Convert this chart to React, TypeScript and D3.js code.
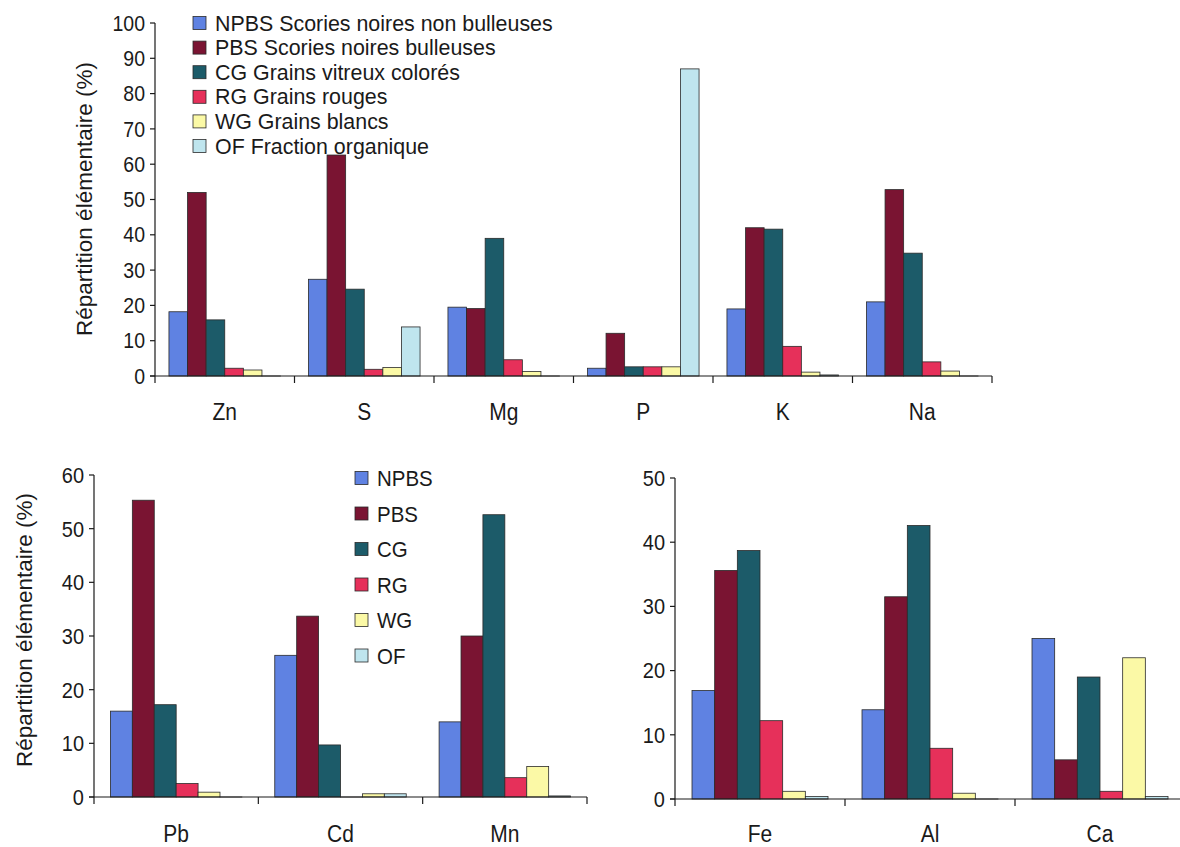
import React from 'react';
import * as d3 from 'd3';

// ---- Series ----
const SERIES_LONG = [
  'NPBS Scories noires non bulleuses',
  'PBS Scories noires bulleuses',
  'CG Grains vitreux colorés',
  'RG Grains rouges',
  'WG Grains blancs',
  'OF Fraction organique',
];
const SERIES_SHORT = ['NPBS', 'PBS', 'CG', 'RG', 'WG', 'OF'];
const COLORS = ['#5f82e2', '#7a1432', '#1c5b69', '#e6305a', '#fbf9a6', '#bfe5ee'];

// ---- Top chart (0-100 %) ----
const TOP_ELEMENTS = ['Zn', 'S', 'Mg', 'P', 'K', 'Na'];
const TOP_NPBS = [18.2, 27.4, 19.5, 2.2, 19.0, 21.0];
const TOP_PBS = [52.0, 62.6, 19.1, 12.1, 42.0, 52.8];
const TOP_CG = [15.9, 24.6, 39.0, 2.6, 41.6, 34.8];
const TOP_RG = [2.2, 1.9, 4.6, 2.6, 8.4, 4.0];
const TOP_WG = [1.7, 2.4, 1.3, 2.6, 1.1, 1.4];
const TOP_OF = [0, 13.9, 0, 87.0, 0.3, 0];
const TOP_TICKS = [0, 10, 20, 30, 40, 50, 60, 70, 80, 90, 100];

// ---- Bottom-left chart (0-60 %) ----
const BL_ELEMENTS = ['Pb', 'Cd', 'Mn'];
const BL_NPBS = [16.0, 26.4, 14.0];
const BL_PBS = [55.3, 33.7, 30.0];
const BL_CG = [17.2, 9.7, 52.6];
const BL_RG = [2.5, 0, 3.6];
const BL_WG = [0.9, 0.6, 5.7];
const BL_OF = [0, 0.6, 0.2];
const BL_TICKS = [0, 10, 20, 30, 40, 50, 60];

// ---- Bottom-right chart (0-50 %) ----
const BR_ELEMENTS = ['Fe', 'Al', 'Ca'];
const BR_NPBS = [16.9, 13.9, 25.0];
const BR_PBS = [35.6, 31.5, 6.1];
const BR_CG = [38.7, 42.6, 19.0];
const BR_RG = [12.2, 7.9, 1.2];
const BR_WG = [1.2, 0.9, 22.0];
const BR_OF = [0.4, 0, 0.4];
const BR_TICKS = [0, 10, 20, 30, 40, 50];

const FONT = '"Liberation Sans", Arial, Helvetica, sans-serif';
const INK = '#1a1a1a';
const SY = 1.12; // vertical stretch of the scanned lettering

function T(props: {
  x: number;
  y: number;
  size: number;
  anchor?: string;
  middle?: boolean;
  sy?: number;
  children: React.ReactNode;
}) {
  const sy = props.sy ?? SY;
  return (
    <text
      transform={`translate(${props.x},${props.y}) scale(1,${sy})`}
      dy={props.middle ? '0.35em' : undefined}
      textAnchor={props.anchor || 'start'}
      fontFamily={FONT}
      fontSize={props.size}
      fill={INK}
    >
      {props.children}
    </text>
  );
}

type PanelProps = {
  categories: string[];
  series: number[][];
  ticks: number[];
  x0: number;
  x1: number;
  yBase: number;
  yTop: number;
  tickFont: number;
  catFont: number;
  catY: number;
  yLabel?: { x: number; y: number; size: number };
};

function Panel(p: PanelProps) {
  const yMax = p.ticks[p.ticks.length - 1];
  const y = d3.scaleLinear().domain([0, yMax]).range([p.yBase, p.yTop]);
  const xOuter = d3.scaleBand<string>().domain(p.categories).range([p.x0, p.x1]).padding(0);
  const bw = xOuter.bandwidth();
  const xInner = d3
    .scaleBand<number>()
    .domain(d3.range(p.series.length))
    .range([bw * 0.1, bw * 0.9])
    .padding(0);
  const boundaries = p.categories.map((c) => xOuter(c) as number).concat([p.x1]);
  return (
    <g>
      {p.categories.map((c, ci) => (
        <g key={c} transform={`translate(${xOuter(c)},0)`}>
          {p.series.map((vals, si) => {
            const v = vals[ci];
            const top = y(v);
            return (
              <rect
                key={si}
                x={xInner(si)}
                y={top}
                width={xInner.bandwidth()}
                height={Math.max(0.01, p.yBase - top)}
                fill={COLORS[si]}
                stroke="#2a2a2a"
                strokeWidth={0.8}
              />
            );
          })}
        </g>
      ))}
      {/* y axis */}
      <line x1={p.x0} x2={p.x0} y1={p.yTop} y2={p.yBase} stroke={INK} strokeWidth={1.2} />
      {p.ticks.map((t) => (
        <g key={t}>
          <line x1={p.x0 - 5} x2={p.x0} y1={y(t)} y2={y(t)} stroke={INK} strokeWidth={1.2} />
          <T x={p.x0 - 10} y={y(t)} size={p.tickFont} anchor="end" middle>
            {t}
          </T>
        </g>
      ))}
      {/* x axis */}
      <line x1={p.x0 - 5} x2={p.x1} y1={p.yBase} y2={p.yBase} stroke={INK} strokeWidth={1.2} />
      {boundaries.map((bx, i) => (
        <line key={i} x1={bx} x2={bx} y1={p.yBase} y2={p.yBase + 7} stroke={INK} strokeWidth={1.2} />
      ))}
      {p.categories.map((c) => (
        <T key={c} x={(xOuter(c) as number) + bw / 2} y={p.catY} size={p.catFont} anchor="middle">
          {c}
        </T>
      ))}
      {p.yLabel && (
        <text
          transform={`translate(${p.yLabel.x},${p.yLabel.y}) rotate(-90)`}
          textAnchor="middle"
          dy="0.35em"
          fontFamily={FONT}
          fontSize={p.yLabel.size}
          fill={INK}
        >
          Répartition élémentaire (%)
        </text>
      )}
    </g>
  );
}

function Legend(props: {
  labels: string[];
  x: number;
  y: number;
  step: number;
  font: number;
  box: number;
  sy: number;
}) {
  return (
    <g>
      {props.labels.map((l, i) => (
        <g key={l} transform={`translate(${props.x},${props.y + i * props.step})`}>
          <rect
            x={0}
            y={-props.box / 2}
            width={props.box}
            height={props.box}
            fill={COLORS[i]}
            stroke="#2a2a2a"
            strokeWidth={0.8}
          />
          <T x={props.box + 9} y={0} size={props.font} middle sy={props.sy}>
            {l}
          </T>
        </g>
      ))}
    </g>
  );
}

export default function App() {
  const topSeries = [TOP_NPBS, TOP_PBS, TOP_CG, TOP_RG, TOP_WG, TOP_OF];
  const blSeries = [BL_NPBS, BL_PBS, BL_CG, BL_RG, BL_WG, BL_OF];
  const brSeries = [BR_NPBS, BR_PBS, BR_CG, BR_RG, BR_WG, BR_OF];
  return (
    <svg
      width={1180}
      height={847}
      style={{ position: 'absolute', left: 0, top: 0, display: 'block', background: '#fff' }}
    >
      <rect x={0} y={0} width={1180} height={847} fill="#ffffff" />
      <Panel
        categories={TOP_ELEMENTS}
        series={topSeries}
        ticks={TOP_TICKS}
        x0={155}
        x1={992}
        yBase={376}
        yTop={23}
        tickFont={19.5}
        catFont={21}
        catY={420}
        yLabel={{ x: 84, y: 199, size: 22.5 }}
      />
      <Legend labels={SERIES_LONG} x={193} y={23} step={24.6} font={21.4} box={13} sy={1} />
      <Panel
        categories={BL_ELEMENTS}
        series={blSeries}
        ticks={BL_TICKS}
        x0={94}
        x1={587}
        yBase={797}
        yTop={475}
        tickFont={20}
        catFont={21}
        catY={842}
        yLabel={{ x: 24, y: 630, size: 22.5 }}
      />
      <Legend labels={SERIES_SHORT} x={355} y={478} step={35.5} font={20.5} box={13} sy={SY} />
      <Panel
        categories={BR_ELEMENTS}
        series={brSeries}
        ticks={BR_TICKS}
        x0={675}
        x1={1185}
        yBase={799}
        yTop={478}
        tickFont={20}
        catFont={21}
        catY={842}
      />
    </svg>
  );
}
